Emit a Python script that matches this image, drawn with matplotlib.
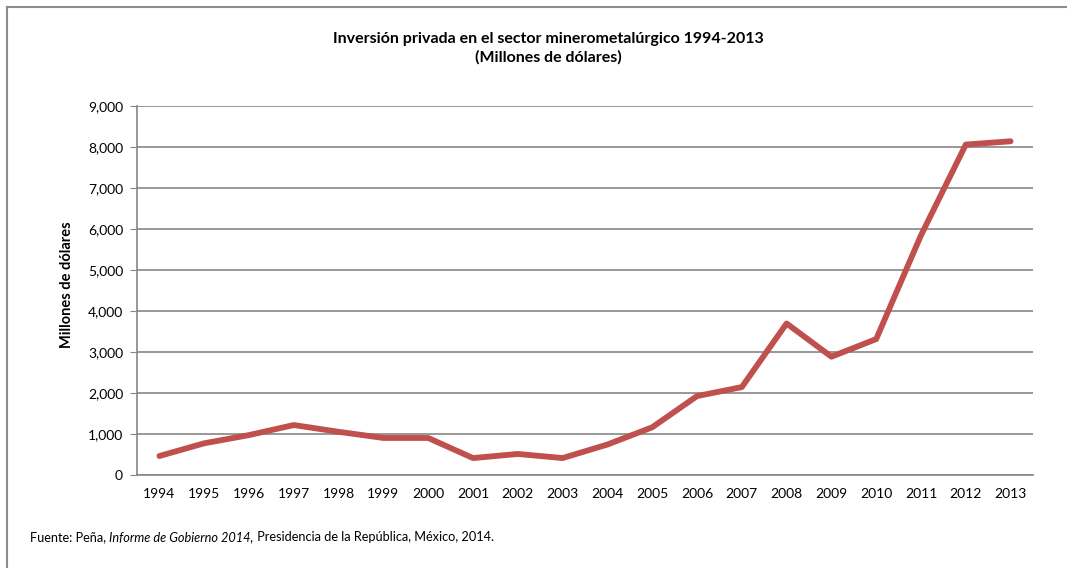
import matplotlib
matplotlib.use("Agg")
import matplotlib.pyplot as plt
from matplotlib.lines import Line2D

years = ["1994", "1995", "1996", "1997", "1998", "1999", "2000", "2001", "2002", "2003",
         "2004", "2005", "2006", "2007", "2008", "2009", "2010", "2011", "2012", "2013"]
inversion = [470, 780, 980, 1225, 1060, 910, 910, 420, 520, 420,
             750, 1170, 1930, 2150, 3700, 2890, 3320, 5850, 8060, 8140]
yticks = [0, 1000, 2000, 3000, 4000, 5000, 6000, 7000, 8000, 9000]
ytick_labels = ["0", "1,000", "2,000", "3,000", "4,000", "5,000", "6,000", "7,000", "8,000", "9,000"]

title = "Inversión privada en el sector minerometalúrgico 1994-2013\n(Millones de dólares)"
ylabel = "Millones de dólares"

plt.rcParams['font.family'] = ['Lato', 'DejaVu Sans']

W, H = 1067, 568
fig = plt.figure(figsize=(W / 100, H / 100), dpi=100)
ax = fig.add_axes([137 / W, 1 - 475.3 / H, (1033 - 137) / W, (475.3 - 106) / H])

x = list(range(len(years)))
ax.plot(x, inversion, color="#C0504D", lw=4.2, solid_capstyle="round", solid_joinstyle="round", zorder=3)

ax.set_xlim(-0.5, len(years) - 0.5)
ax.set_ylim(0, 9000)
ax.set_yticks(yticks)
ax.set_yticklabels(ytick_labels)
ax.set_xticks(x)
ax.set_xticklabels(years)
ax.grid(axis="y", color="#868686", lw=1.2, zorder=0)
ax.set_axisbelow(True)
for s in ["top", "right"]:
    ax.spines[s].set_visible(False)
ax.spines["left"].set_color("#868686")
ax.spines["bottom"].set_color("#868686")
ax.spines["left"].set_linewidth(1.2)
ax.spines["bottom"].set_linewidth(1.2)
ax.tick_params(axis="y", length=5, color="#868686", labelsize=10, pad=5)
ax.tick_params(axis="x", length=0, labelsize=10, pad=9)

ax.set_ylabel(ylabel, fontsize=10.5, fontweight="bold")
ax.yaxis.set_label_coords((74 - 137) / (1033 - 137), (475.3 - 285) / (475.3 - 106))

fig.text(548 / W, 1 - 48 / H, title, ha="center", va="center", fontsize=11.5,
         fontweight="bold", linespacing=1.35)

# footnote with italic part
fs = 9.2
t1 = fig.text(30 / W, 1 - 537 / H, "Fuente: Peña, ", fontsize=fs, va="center", ha="left")
t2 = fig.text(0, 0, "Informe de Gobierno 2014,", fontsize=fs, style="italic")
t3 = fig.text(0, 0, " Presidencia de la República, México, 2014.", fontsize=fs)
fig.canvas.draw()
r = fig.canvas.get_renderer()
bb1 = t1.get_window_extent(r)
t2.set_position((bb1.x1 / W, bb1.y0 / H))
t2.set_va("bottom")
fig.canvas.draw()
bb2 = t2.get_window_extent(r)
t3.set_position((bb2.x1 / W, bb1.y0 / H))
t3.set_va("bottom")

# outer frame (top and left edges)
fig.add_artist(Line2D([7 / W, 1], [1 - 7 / H, 1 - 7 / H], color="#8c8c8c", lw=1.5, transform=fig.transFigure))
fig.add_artist(Line2D([7 / W, 7 / W], [0, 1 - 7 / H], color="#8c8c8c", lw=1.5, transform=fig.transFigure))

fig.savefig("out.png", dpi=100)
